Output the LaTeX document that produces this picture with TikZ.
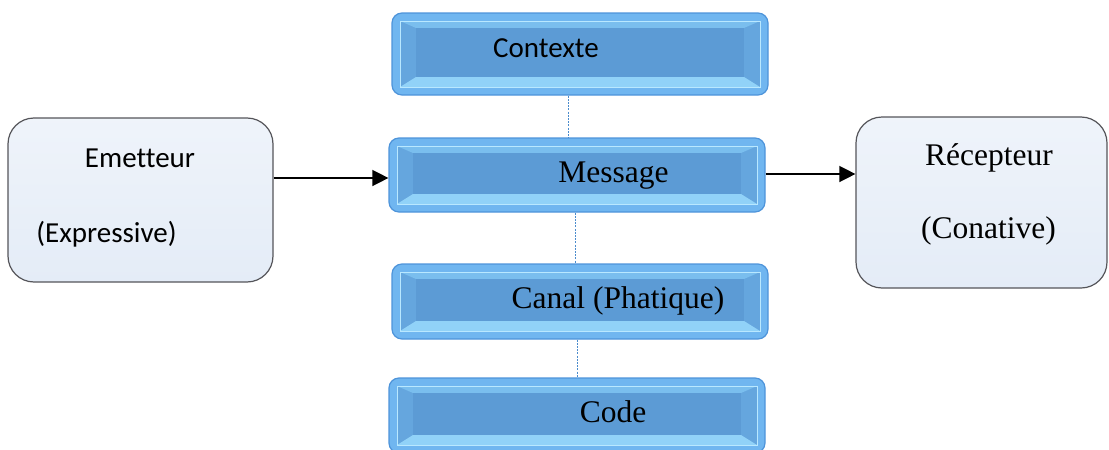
\documentclass[tikz,border=0pt]{standalone}
\usepackage{fontspec}
\setmainfont{Liberation Serif}
\newfontfamily\calib[Ligatures={NoCommon,NoRequired}]{Carlito}
\usetikzlibrary{arrows.meta,calc}
\definecolor{outerblue}{RGB}{112,182,240}
\definecolor{rimblue}{RGB}{78,148,218}
\definecolor{innerblue}{RGB}{92,155,213}
\definecolor{bevtop}{RGB}{122,190,238}
\definecolor{bevbot}{RGB}{145,210,248}
\definecolor{bevside}{RGB}{101,166,222}
\definecolor{hilite}{RGB}{185,232,255}
\definecolor{sidefill}{RGB}{228,236,247}
\definecolor{sideedge}{RGB}{85,85,90}
\definecolor{dashblue}{RGB}{75,140,205}
\newcommand\bevelbox{%
  \path let \p1=(path picture bounding box.south west), \p2=(path picture bounding box.north east) in
    coordinate (bA) at (\x1+8pt,\y1+8pt) coordinate (bB) at (\x2-8pt,\y2-8pt)
    coordinate (fA) at (\x1+24pt,\y1+18pt) coordinate (fB) at (\x2-24pt,\y2-15pt);
  \fill[bevside, sharp corners] (bA) rectangle (bB);
  \fill[bevtop, sharp corners] (bA |- bB) -- (bB) -- (fB) -- (fA |- fB) -- cycle;
  \fill[bevbot, sharp corners] (bA) -- (bB |- bA) -- (fB |- fA) -- (fA) -- cycle;
  \fill[innerblue, sharp corners] (fA) rectangle (fB);
  \draw[hilite, line width=1pt, sharp corners] (bA) rectangle (bB);
}
\tikzset{
  bluebox/.style={rectangle, rounded corners=10pt, fill=outerblue, draw=rimblue, line width=1.2pt,
    minimum width=376pt, minimum height=#1, inner sep=0pt,
    path picture={\bevelbox}},
  sidebox/.style={rectangle, rounded corners=26pt, top color=sidefill!60!white, bottom color=sidefill,
    draw=sideedge, line width=1.2pt, inner sep=0pt},
  serif/.style={anchor=base, font=\fontsize{31.5}{36}\selectfont},
  sans/.style={anchor=base, font=\calib\fontsize{29}{34}\selectfont},
  link/.style={draw=dashblue, line width=0.7pt, dash pattern=on 2pt off 1.2pt},
  flow/.style={draw=black, line width=1.4pt, -{Triangle[length=16pt,width=16pt]}}
}
\begin{document}
\begin{tikzpicture}[x=1pt,y=-1pt]
\useasboundingbox (0,0) rectangle (1109,450);
% blue boxes
\node[bluebox=82pt] (contexte) at (580,54) {};
\node[bluebox=74pt] (message) at (577,175) {};
\node[bluebox=75pt] (canal) at (580,301.5) {};
\node[bluebox=75pt] (code) at (577,415.5) {};
% side boxes
\node[sidebox, minimum width=265pt, minimum height=164pt] (emet) at (140.5,200) {};
\node[sidebox, minimum width=251pt, minimum height=171pt] (recep) at (981.5,202.5) {};
% texts
\node[sans] (tctx) at (546,57) {Contexte};
\node[serif] (tmsg) at (613.5,182) {Message};
\node[serif] (tcan) at (618,308) {Canal (Phatique)};
\node[serif] (tcod) at (613,422) {Code};
\node[sans] (tem1) at (140,167) {Emetteur};
\node[sans] (tem2) at (106.5,242) {(Expressive)};
\node[serif] (trc1) at (989,165) {Récepteur};
\node[serif] (trc2) at (988.5,238) {(Conative)};
% dashed links
\coordinate (x1) at (568.5,0);
\coordinate (x2) at (575,0);
\coordinate (x3) at (577,0);
\draw[link] (contexte.south -| x1) -- (message.north -| x1);
\draw[link] (message.south -| x2) -- (canal.north -| x2);
\draw[link] (canal.south -| x3) -- (code.north -| x3);
% arrows
\coordinate (ya) at (0,178);
\coordinate (yb) at (0,174);
\draw[flow] (emet.east |- ya) -- (message.west |- ya);
\draw[flow] (message.east |- yb) -- (recep.west |- yb);
\end{tikzpicture}
\end{document}
